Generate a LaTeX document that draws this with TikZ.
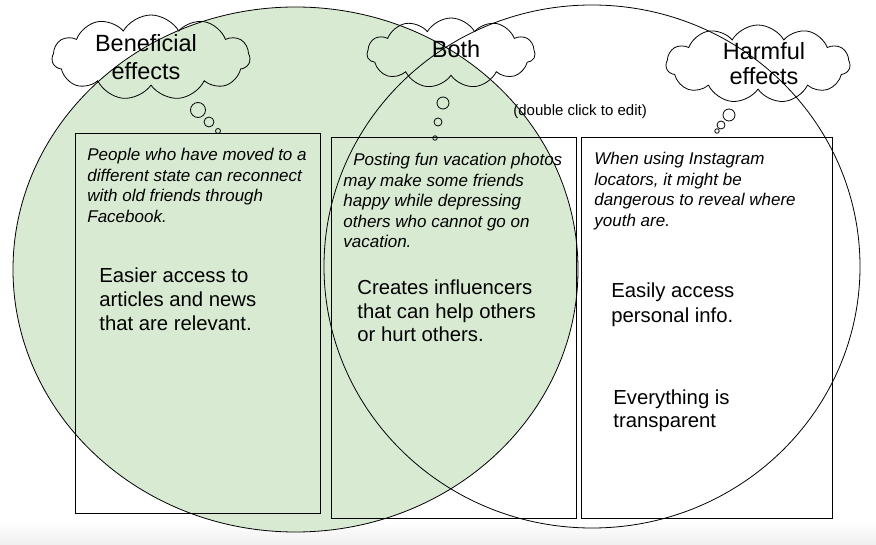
\documentclass[tikz,border=0pt]{standalone}
\usepackage{fontspec}
\setmainfont{Liberation Sans}
\usetikzlibrary{shapes.symbols}
\definecolor{lightgreen}{HTML}{D9EAD3}
\definecolor{bandgray}{HTML}{EFEFEF}
\begin{document}
\begin{tikzpicture}[x=1pt,y=-1pt,line width=0.8pt,
  thought/.style={draw, cloud, cloud puffs=11, cloud puff arc=120, cloud ignores aspect, inner sep=0pt},
  bubble/.style={draw, circle, inner sep=0pt, line width=0.8pt},
  textbox/.style={draw, rectangle, inner sep=0pt, anchor=north west},
  note/.style={anchor=base west, inner sep=0pt, font=\fontsize{17}{20.5}\selectfont\itshape},
  point/.style={anchor=base west, inner sep=0pt, font=\fontsize{20.3}{24}\selectfont},
  title/.style={anchor=base, inner sep=0pt},
  hint/.style={anchor=base west, inner sep=0pt, font=\fontsize{15}{18}\selectfont}
]
\useasboundingbox (0,0) rectangle (876,545);
% bottom band
\shade[top color=white, bottom color=bandgray, draw=none] (0,522) rectangle (876,545);
% green fill of the left circle
\fill[lightgreen] (295.5,269.5) ellipse [x radius=282.5pt, y radius=262.5pt];
% boxes
\node[textbox, minimum width=245pt, minimum height=380pt] (lbox) at (75,133) {};
\node[textbox, minimum width=245pt, minimum height=381pt] (mbox) at (331,137) {};
\node[textbox, minimum width=251pt, minimum height=381pt] (rbox) at (581,137) {};
% circle outlines
\draw (295.5,269.5) ellipse [x radius=282.5pt, y radius=262.5pt];
\draw (592,266.5) ellipse [x radius=268pt, y radius=261.5pt];
% clouds
\node[thought, minimum width=198pt, minimum height=85pt] (cb) at (151,57.5) {};
\node[thought, minimum width=168pt, minimum height=70pt] (cm) at (451,53) {};
\node[thought, minimum width=184pt, minimum height=78pt] (ch) at (758,64) {};
% bubbles
\node[bubble, minimum size=15pt] (b1) at (198,110) {};
\node[bubble, minimum size=10pt] (b2) at (209,122) {};
\node[bubble, minimum size=5pt] (b3) at (218,131) {};
\node[bubble, minimum size=12pt] (m1) at (443,103) {};
\node[bubble, minimum size=8pt] (m2) at (438,122) {};
\node[bubble, minimum size=4.5pt] (m3) at (435,138) {};
\node[bubble, minimum size=12pt] (h1) at (729,115) {};
\node[bubble, minimum size=8pt] (h2) at (721,125) {};
\node[bubble, minimum size=4.5pt] (h3) at (717,131) {};
% cloud titles
\node[title, font=\fontsize{23.5}{28}\selectfont] (tb) at (146,52) {\parbox[t]{150pt}{\centering Beneficial\\effects}};
\node[title, font=\fontsize{23.5}{28}\selectfont] (tm) at (456,58) {Both};
\node[title, font=\fontsize{23.5}{25}\selectfont] (th) at (764,60) {\parbox[t]{150pt}{\centering Harmful\\effects}};
\node[hint] (hint) at (513,116) {(double click to edit)};
% notes
\node[note] (nl) at (87,161) {\parbox[t]{230pt}{\raggedright People who have moved to a\\different state can reconnect\\with old friends through\\Facebook.}};
\node[note] (nm) at (343,166) {\parbox[t]{230pt}{\raggedright \hspace*{10pt}Posting fun vacation photos\\may make some friends\\happy while depressing\\others who cannot go on\\vacation.}};
\node[note] (nr) at (594,165) {\parbox[t]{230pt}{\raggedright When using Instagram\\locators, it might be\\dangerous to reveal where\\youth are.}};
% points
\node[point] (pl) at (99,283) {\parbox[t]{210pt}{\raggedright Easier access to\\articles and news\\that are relevant.}};
\node[point, font=\fontsize{20.3}{23.5}\selectfont] (pm) at (357,295) {\parbox[t]{210pt}{\raggedright Creates influencers\\that can help others\\or hurt others.}};
\node[point, font=\fontsize{20.3}{25}\selectfont] (pr1) at (611,298) {\parbox[t]{200pt}{\raggedright Easily access\\personal info.}};
\node[point] (pr2) at (613,404) {\parbox[t]{200pt}{\raggedright Everything is\\transparent}};
\end{tikzpicture}
\end{document}
